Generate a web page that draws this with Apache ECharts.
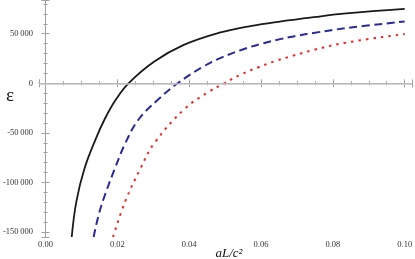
<!DOCTYPE html>
<html>
<head>
<meta charset="utf-8">
<script src="https://cdn.jsdelivr.net/npm/echarts@6/dist/echarts.min.js"></script>
<style>
html,body{margin:0;padding:0;background:#fff;}
#c{width:415px;height:259px;}
</style>
</head>
<body>
<div id="c"></div>
<script>
// Black solid curve
const xBlack = [0.0073, 0.0086, 0.0109, 0.0140, 0.0165, 0.0195, 0.0231, 0.0303, 0.0385, 0.0484, 0.0574, 0.0656, 0.0746, 0.0837, 0.1000];
const yBlack = [-155000, -119000, -85500, -56000, -36000, -16900, 0, 22000, 38700, 51000, 58000, 62500, 66700, 70500, 75000];
// Blue dashed curve
const xBlue = [0.0134, 0.0149, 0.0167, 0.0195, 0.0222, 0.0258, 0.0312, 0.0368, 0.0439, 0.0493, 0.0547, 0.0602, 0.0656, 0.0706, 0.0746, 0.0837, 0.1000];
const yBlue = [-155000, -131300, -111100, -84200, -60600, -37000, -16900, 0, 16800, 26400, 33900, 40000, 44800, 48300, 50800, 55600, 62400];
// Red dotted curve
const xRed = [0.0188, 0.0222, 0.0265, 0.0303, 0.0389, 0.0455, 0.0498, 0.0545, 0.0593, 0.0640, 0.0690, 0.0746, 0.0837, 0.1000];
const yRed = [-155000, -119000, -85500, -60300, -25250, -8500, 0, 9100, 16200, 22500, 27900, 33600, 41000, 49700];

const xTicks = [0.00, 0.02, 0.04, 0.06, 0.08, 0.10];
const yTicks = [-150000, -100000, -50000, 0, 50000];

const zip = (xs, ys) => xs.map((x, i) => [x, ys[i]]);

function fmtY(v) {
  if (v === 0) return '0';
  const s = Math.abs(v).toString();
  const t = s.replace(/\B(?=(\d{3})+(?!\d))/g, '\u2009');
  return (v < 0 ? '-' : '') + t;
}

const chart = echarts.init(document.getElementById('c'), null, {renderer: 'canvas'});
const axisGray = '#a0a0a0';
const labelFont = {fontFamily: 'Liberation Serif', fontSize: 8.5, color: '#333'};

const baseX = {
  type: 'value', min: -0.0018, max: 0.102, splitNumber: 5,
  axisLine: {show: true, lineStyle: {color: axisGray, width: 1}},
  axisTick: {show: true, inside: true, length: 4, lineStyle: {color: axisGray}},
  minorTick: {show: true, splitNumber: 4, length: 2, lineStyle: {color: axisGray}},
  splitLine: {show: false},
};
const baseY = {
  type: 'value', min: -155000, max: 84000, splitNumber: 5,
  axisLine: {show: true, lineStyle: {color: axisGray, width: 1}},
  axisTick: {show: true, inside: true, length: 4, lineStyle: {color: axisGray}},
  minorTick: {show: true, splitNumber: 5, length: 2, lineStyle: {color: axisGray}},
  splitLine: {show: false},
};

chart.setOption({
  animation: false,
  backgroundColor: '#fff',
  grid: {left: 32, right: 1, top: 0, bottom: 22, containLabel: false},
  xAxis: [
    Object.assign({}, baseX, {position: 'bottom',
      axisLabel: Object.assign({}, labelFont, {margin: 3, showMinLabel: false, showMaxLabel: false,
        formatter: v => xTicks.some(t => Math.abs(t - v) < 1e-9) ? v.toFixed(2) : ''})}),
    Object.assign({}, baseX, {position: 'top', axisLabel: {show: false}})
  ],
  yAxis: [
    Object.assign({}, baseY, {position: 'left',
      axisLabel: Object.assign({}, labelFont, {margin: 6, showMinLabel: false, showMaxLabel: false,
        formatter: v => yTicks.includes(v) ? fmtY(v) : ''})}),
    Object.assign({}, baseY, {position: 'right', axisLabel: {show: false}})
  ],
  series: [
    {
      type: 'line', data: zip(xBlack, yBlack), showSymbol: false, smooth: 0.4,
      lineStyle: {color: '#1a1a1a', width: 1.8, type: 'solid'}, z: 3,
      markLine: {
        silent: true, symbol: 'none', label: {show: false},
        lineStyle: {color: '#c4c4c4', width: 1.6, type: 'solid'},
        data: [{yAxis: 0}]
      }
    },
    {
      type: 'line', data: zip(xBlue, yBlue), showSymbol: false, smooth: 0.4,
      lineStyle: {color: '#2a2a96', width: 2, type: [8, 4.5]}, z: 3
    },
    {
      type: 'line', data: zip(xRed, yRed), showSymbol: false, smooth: 0.4,
      lineStyle: {color: '#e82a2a', width: 2, type: [2.5, 5]}, z: 3
    }
  ],
  graphic: [
    {type: 'text', x: 10, y: 96, style: {text: '\u03b5', font: '19px "Liberation Serif"', fill: '#111', align: 'center', verticalAlign: 'middle'}},
    {type: 'text', x: 229, y: 254, style: {text: 'aL/c\u00b2', font: 'italic 13px "Liberation Serif"', fill: '#111', align: 'center', verticalAlign: 'middle'}}
  ]
});
</script>
</body>
</html>
